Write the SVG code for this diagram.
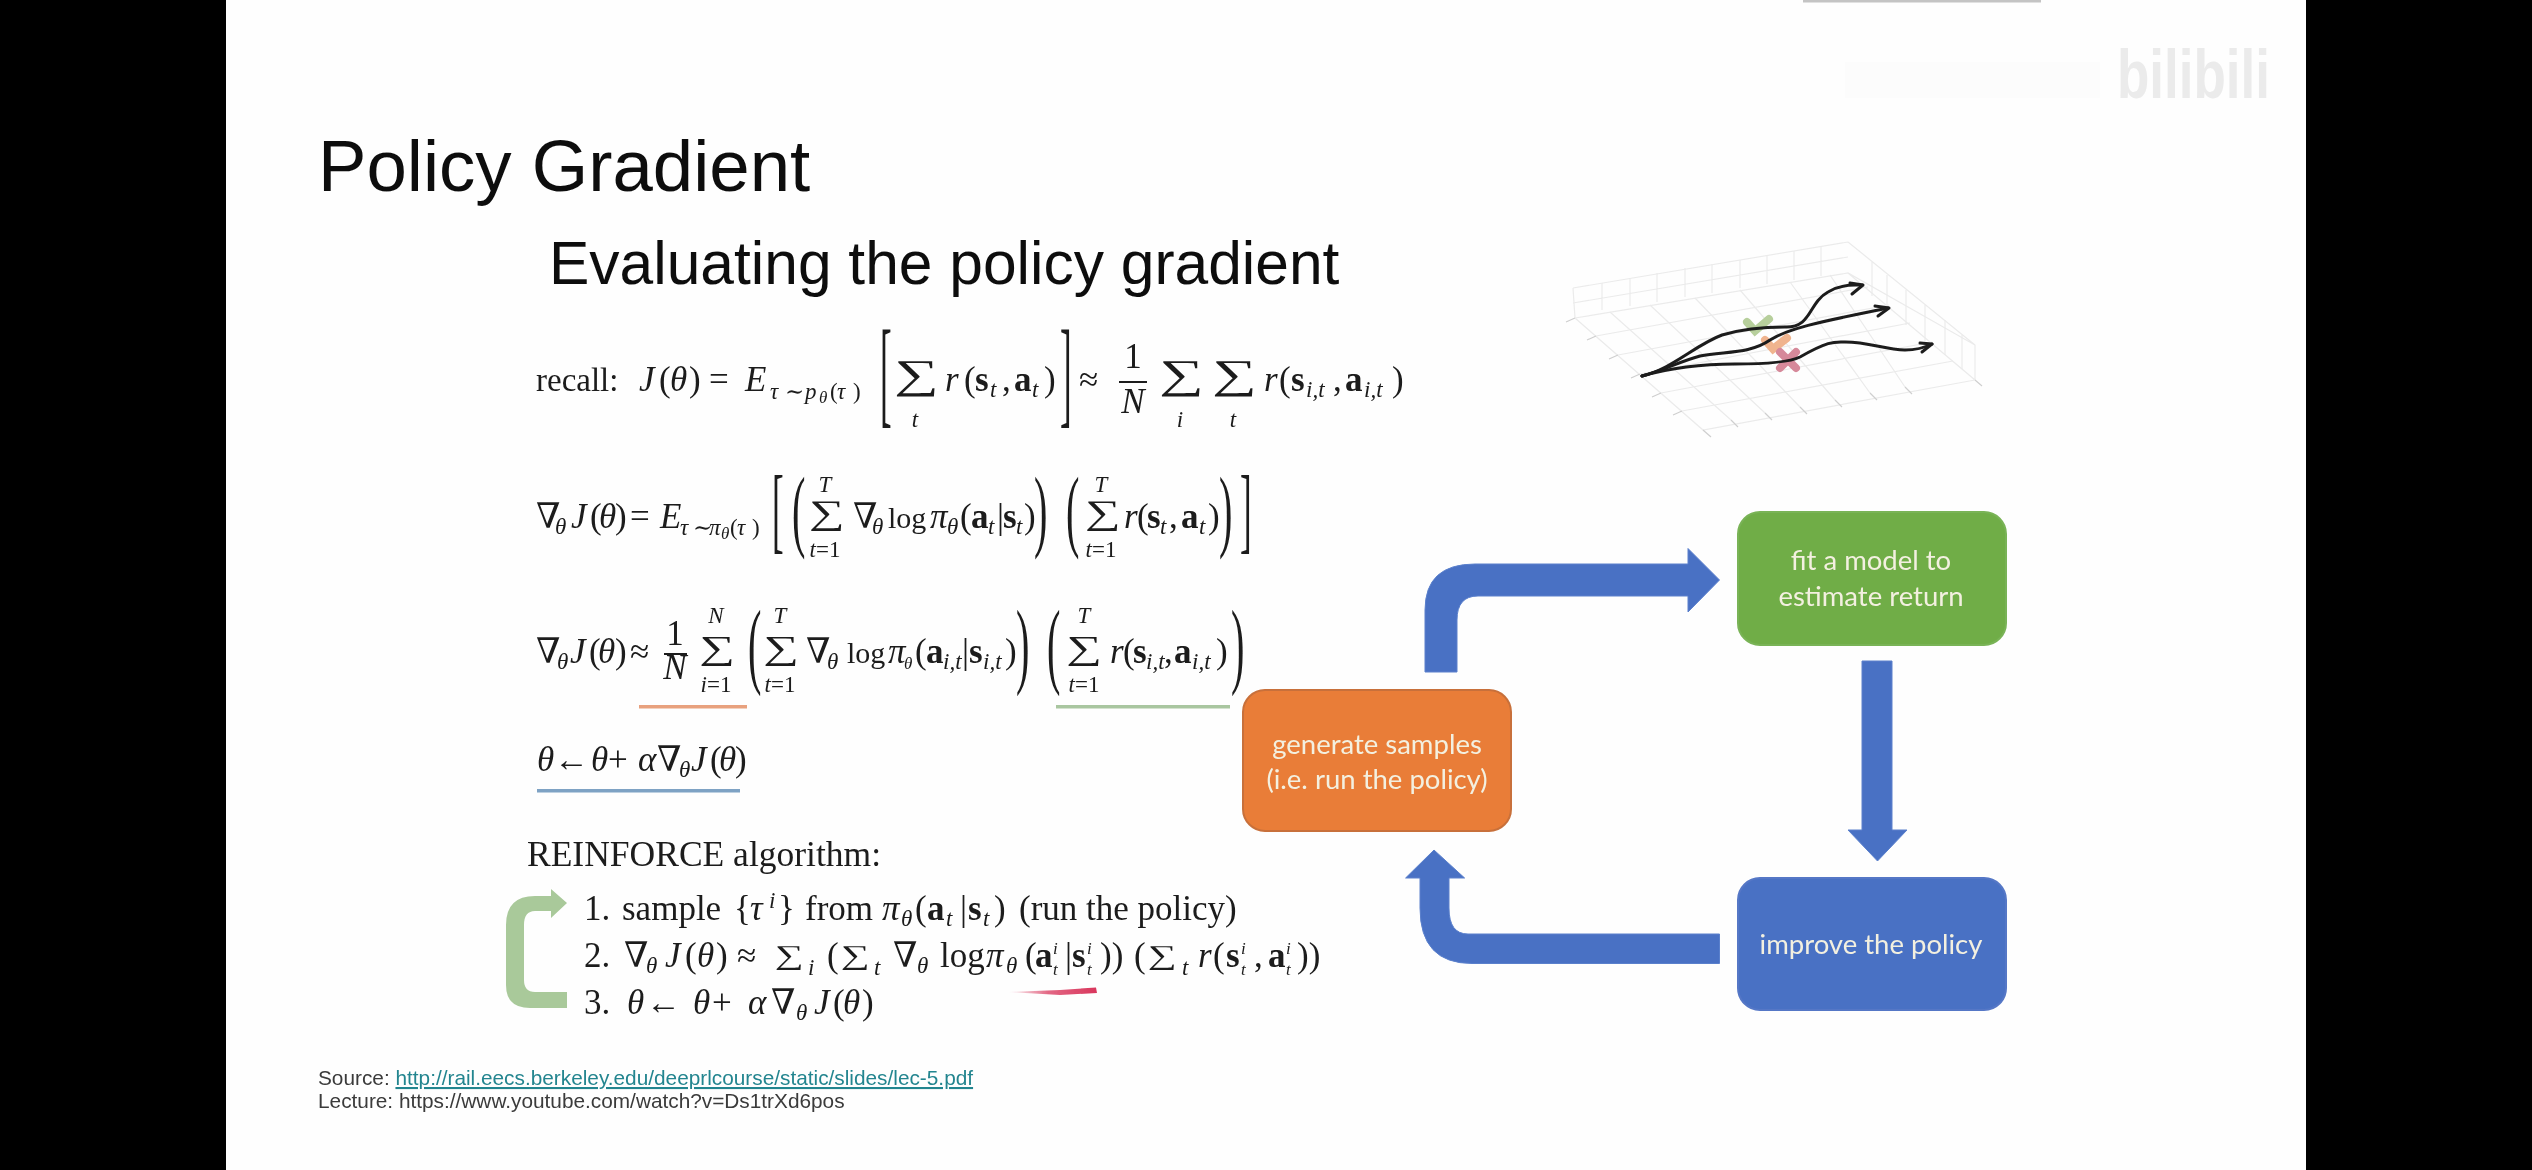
<svg xmlns="http://www.w3.org/2000/svg" width="2532" height="1170" viewBox="0 0 2532 1170">
<style>
.m{font-family:"Liberation Serif","DejaVu Serif",serif;font-size:35px;fill:#1a1a1a}
.i{font-style:italic}
.b{font-weight:bold}
.s{font-size:23px}
.ss{font-size:17px}
.lg{font-size:30px}
.sa{font-family:"Liberation Serif","DejaVu Serif",serif;font-size:40.5px;fill:#1a1a1a}
.sb{font-family:"Liberation Serif","DejaVu Serif",serif;font-size:34.5px;fill:#1a1a1a}
.sc{font-family:"Liberation Serif","DejaVu Serif",serif;font-size:27px;fill:#1a1a1a}
.a{font-family:"Liberation Sans",Arial,sans-serif;fill:#111}
.n{font-family:Lato,"Open Sans",sans-serif;font-size:27.5px;fill:#f3f0e0;text-anchor:middle}
.arr{fill:#4a71c4;stroke:#5a80cc;stroke-width:1}
.box{stroke-width:2}
.grid{stroke:#ebebeb;stroke-width:1.2;fill:none}
.tick{stroke:#cfcfcf;stroke-width:1.2;fill:none}
.tr{stroke:#1c1c1c;stroke-width:3;fill:none;stroke-linecap:round;stroke-linejoin:round}
.mid{text-anchor:middle}
</style>
<defs>
<filter id="soft" x="-2%" y="-2%" width="104%" height="104%"><feGaussianBlur stdDeviation="0.55"/></filter>
<linearGradient id="red" x1="0" x2="1" y1="0" y2="0"><stop offset="0" stop-color="#d9365c" stop-opacity="0"/><stop offset="0.45" stop-color="#d9365c" stop-opacity="0.75"/><stop offset="1" stop-color="#d9365c"/></linearGradient>
</defs>
<rect width="2532" height="1170" fill="#000"/>
<rect x="226" y="0" width="2080" height="1170" fill="#fefefe"/>
<rect x="1803" y="0" width="238" height="2.5" fill="#c4c4c4"/>
<rect x="1845" y="62" width="255" height="36" fill="#fcfcfc"/>
<text x="2117" y="98" font-family="'Liberation Sans',sans-serif" font-weight="bold" font-size="68" fill="#ebebeb" textLength="153" lengthAdjust="spacingAndGlyphs">bilibili</text>

<g filter="url(#soft)">
<text class="a" x="318" y="191" font-size="72.6">Policy Gradient</text>
<text class="a" x="549" y="284" font-size="60.5">Evaluating the policy gradient</text>

<g id="eq1">
<text class="m" y="388" transform="translate(0,3)"><tspan x="536" style="font-size:33px">recall:</tspan><tspan x="639" class="i">J</tspan><tspan x="659">(</tspan><tspan x="670" class="i">θ</tspan><tspan x="689">)</tspan><tspan x="709">=</tspan><tspan x="745" class="i">E</tspan><tspan x="770" y="396" class="s i">τ</tspan><tspan x="785" class="s">∼</tspan><tspan x="805" class="s i">p</tspan><tspan x="819" y="400" class="ss i">θ</tspan><tspan x="830" y="396" class="s">(</tspan><tspan x="837" class="s i">τ</tspan><tspan x="853" class="s">)</tspan><tspan x="945" y="388" class="i">r</tspan><tspan x="964">(</tspan><tspan x="975" class="b">s</tspan><tspan x="990" y="394" class="s i">t</tspan><tspan x="1002" y="388">,</tspan><tspan x="1014" class="b">a</tspan><tspan x="1032" y="394" class="s i">t</tspan><tspan x="1044" y="388">)</tspan><tspan x="1079">≈</tspan><tspan x="1264" class="i">r</tspan><tspan x="1279">(</tspan><tspan x="1291" class="b">s</tspan><tspan x="1306" y="394" class="s i">i,t</tspan><tspan x="1333" y="388">,</tspan><tspan x="1345" class="b">a</tspan><tspan x="1364" y="394" class="s i">i,t</tspan><tspan x="1392" y="388">)</tspan></text>
<text class="m" transform="translate(880,412) scale(1,3.4)">[</text>
<text class="m" transform="translate(1060,412) scale(1,3.4)">]</text>
<text class="sa" transform="translate(894,388) scale(1.55,1)">∑</text><text class="m s i mid" x="915" y="427">t</text>
<text class="m mid" x="1133" y="368">1</text><rect x="1119" y="381" width="28" height="2" fill="#1a1a1a"/><text class="m i mid" x="1133" y="413">N</text>
<text class="sa" transform="translate(1159,388) scale(1.55,1)">∑</text><text class="m s i mid" x="1180" y="427">i</text>
<text class="sa" transform="translate(1212,388) scale(1.55,1)">∑</text><text class="m s i mid" x="1233" y="427">t</text>
</g>

<g id="eq2">
<text class="m" y="525" transform="translate(0,3)"><tspan x="536">∇</tspan><tspan x="555" y="531" class="s i">θ</tspan><tspan x="571" y="525" class="i">J</tspan><tspan x="590">(</tspan><tspan x="599" class="i">θ</tspan><tspan x="615">)</tspan><tspan x="630">=</tspan><tspan x="660" class="i">E</tspan><tspan x="680" y="532" class="s i">τ</tspan><tspan x="693" class="s">∼</tspan><tspan x="709" class="s i">π</tspan><tspan x="721" y="536" class="ss i">θ</tspan><tspan x="730" y="532" class="s">(</tspan><tspan x="737" class="s i">τ</tspan><tspan x="752" class="s">)</tspan><tspan x="853" y="525">∇</tspan><tspan x="872" y="531" class="s i">θ</tspan><tspan x="888" y="525" class="lg">log</tspan><tspan x="930" class="i">π</tspan><tspan x="947" y="531" class="s i">θ</tspan><tspan x="960" y="525">(</tspan><tspan x="971" class="b">a</tspan><tspan x="988" y="531" class="s i">t</tspan><tspan x="997" y="525">|</tspan><tspan x="1003" class="b">s</tspan><tspan x="1016" y="531" class="s i">t</tspan><tspan x="1024" y="525">)</tspan><tspan x="1124" class="i">r</tspan><tspan x="1137">(</tspan><tspan x="1147" class="b">s</tspan><tspan x="1160" y="531" class="s i">t</tspan><tspan x="1169" y="525">,</tspan><tspan x="1181" class="b">a</tspan><tspan x="1199" y="531" class="s i">t</tspan><tspan x="1208" y="525">)</tspan></text>
<text class="m" transform="translate(772,541) scale(1,2.7)">[</text>
<text class="m" transform="translate(1240,541) scale(1,2.7)">]</text>
<text class="m" transform="translate(792,540) scale(1.15,2.6)">(</text>
<text class="m" transform="translate(1034,540) scale(1.15,2.6)">)</text>
<text class="m" transform="translate(1066,540) scale(1.15,2.6)">(</text>
<text class="m" transform="translate(1219,540) scale(1.15,2.6)">)</text>
<text class="sb" transform="translate(809,524) scale(1.45,1)">∑</text><text class="m s i mid" x="825" y="492">T</text><text class="m s mid" x="825" y="557"><tspan class="i">t</tspan>=1</text>
<text class="sb" transform="translate(1085,524) scale(1.45,1)">∑</text><text class="m s i mid" x="1101" y="492">T</text><text class="m s mid" x="1101" y="557"><tspan class="i">t</tspan>=1</text>
</g>

<g id="eq3">
<text class="m" y="660" transform="translate(0,3)"><tspan x="536">∇</tspan><tspan x="557" y="666" class="s i">θ</tspan><tspan x="570" y="660" class="i">J</tspan><tspan x="589">(</tspan><tspan x="598" class="i">θ</tspan><tspan x="615">)</tspan><tspan x="630">≈</tspan><tspan x="806">∇</tspan><tspan x="827" y="666" class="s i">θ</tspan><tspan x="847" y="660" class="lg">log</tspan><tspan x="888" class="i">π</tspan><tspan x="904" y="666" class="ss i">θ</tspan><tspan x="915" y="660">(</tspan><tspan x="926" class="b">a</tspan><tspan x="943" y="666" class="s i">i,t</tspan><tspan x="962" y="660">|</tspan><tspan x="969" class="b">s</tspan><tspan x="983" y="666" class="s i">i,t</tspan><tspan x="1005" y="660">)</tspan><tspan x="1110" class="i">r</tspan><tspan x="1123">(</tspan><tspan x="1133" class="b">s</tspan><tspan x="1146" y="666" class="s i">i,t</tspan><tspan x="1164" y="660">,</tspan><tspan x="1174" class="b">a</tspan><tspan x="1192" y="666" class="s i">i,t</tspan><tspan x="1216" y="660">)</tspan></text>
<text class="m mid" x="675" y="645">1</text><rect x="664" y="653" width="23" height="2" fill="#1a1a1a"/><text class="m i mid" x="675" y="679">N</text>
<text class="sc" transform="translate(699,658.5) scale(1.85,1.25)">∑</text><text class="m s i mid" x="716" y="623">N</text><text class="m s mid" x="716" y="692"><tspan class="i">i</tspan>=1</text>
<text class="sc" transform="translate(763,658.5) scale(1.85,1.25)">∑</text><text class="m s i mid" x="780" y="623">T</text><text class="m s mid" x="780" y="692"><tspan class="i">t</tspan>=1</text>
<text class="sc" transform="translate(1066,658.5) scale(1.85,1.25)">∑</text><text class="m s i mid" x="1084" y="623">T</text><text class="m s mid" x="1084" y="692"><tspan class="i">t</tspan>=1</text>
<text class="m" transform="translate(748,676) scale(1.15,2.75)">(</text>
<text class="m" transform="translate(1016,676) scale(1.15,2.75)">)</text>
<text class="m" transform="translate(1047,676) scale(1.15,2.75)">(</text>
<text class="m" transform="translate(1231,676) scale(1.15,2.75)">)</text>
<rect x="639" y="705" width="108" height="3.5" fill="#e8a17e"/>
<rect x="1056" y="705" width="174" height="3.5" fill="#a9c6a0"/>
</g>

<g id="eq4">
<text class="m" y="771"><tspan x="537" class="i">θ</tspan><tspan x="554">←</tspan><tspan x="591" class="i">θ</tspan><tspan x="608">+</tspan><tspan x="638" class="i">α</tspan><tspan x="657">∇</tspan><tspan x="679" y="777" class="s i">θ</tspan><tspan x="691" y="771" class="i">J</tspan><tspan x="710">(</tspan><tspan x="719" class="i">θ</tspan><tspan x="735">)</tspan></text>
<rect x="537" y="789" width="203" height="3.5" fill="#7ea2c4"/>
</g>

<g id="reinforce">
<text class="m" x="527" y="866" style="font-size:35.5px">REINFORCE algorithm:</text>
<g transform="translate(0,3)">
<text class="m" y="917"><tspan x="584">1.</tspan><tspan x="622">sample</tspan><tspan x="734">{</tspan><tspan x="750" class="i">τ</tspan><tspan x="769" y="905" class="s i">i</tspan><tspan x="778" y="917">}</tspan><tspan x="805">from</tspan><tspan x="882" class="i">π</tspan><tspan x="901" y="923" class="s i">θ</tspan><tspan x="915" y="917">(</tspan><tspan x="927" class="b">a</tspan><tspan x="946" y="923" class="s i">t</tspan><tspan x="960" y="917">|</tspan><tspan x="968" class="b">s</tspan><tspan x="983" y="923" class="s i">t</tspan><tspan x="994" y="917">)</tspan><tspan x="1019">(run the policy)</tspan></text>
<text class="m" y="964"><tspan x="584">2.</tspan><tspan x="624">∇</tspan><tspan x="646" y="970" class="s i">θ</tspan><tspan x="665" y="964" class="i">J</tspan><tspan x="685">(</tspan><tspan x="697" class="i">θ</tspan><tspan x="716">)</tspan><tspan x="737">≈</tspan><tspan x="808" y="972" class="s i">i</tspan><tspan x="827" y="964">(</tspan><tspan x="874" y="972" class="s i">t</tspan><tspan x="893" y="964">∇</tspan><tspan x="917" y="970" class="s i">θ</tspan><tspan x="940" y="964">log</tspan><tspan x="986" class="i">π</tspan><tspan x="1006" y="970" class="s i">θ</tspan><tspan x="1025" y="964">(</tspan><tspan x="1035" class="b">a</tspan><tspan x="1053" y="951" class="ss i">i</tspan><tspan x="1053" y="972" class="ss i">t</tspan><tspan x="1065" y="964">|</tspan><tspan x="1072" class="b">s</tspan><tspan x="1087" y="951" class="ss i">i</tspan><tspan x="1087" y="972" class="ss i">t</tspan><tspan x="1100" y="964">))</tspan><tspan x="1134">(</tspan><tspan x="1182" y="972" class="s i">t</tspan><tspan x="1198" y="964" class="i">r</tspan><tspan x="1213">(</tspan><tspan x="1226" class="b">s</tspan><tspan x="1241" y="951" class="ss i">i</tspan><tspan x="1241" y="972" class="ss i">t</tspan><tspan x="1254" y="964">,</tspan><tspan x="1268" class="b">a</tspan><tspan x="1286" y="951" class="ss i">i</tspan><tspan x="1286" y="972" class="ss i">t</tspan><tspan x="1297" y="964">))</tspan></text>
<text class="sc" transform="translate(775,961) scale(1.5,1)">∑</text>
<text class="sc" transform="translate(841,961) scale(1.5,1)">∑</text>
<text class="sc" transform="translate(1148,961) scale(1.5,1)">∑</text>
</g>
<text class="m" y="1014"><tspan x="584">3.</tspan><tspan x="627" class="i">θ</tspan><tspan x="646">←</tspan><tspan x="693" class="i">θ</tspan><tspan x="712">+</tspan><tspan x="748" class="i">α</tspan><tspan x="771">∇</tspan><tspan x="796" y="1020" class="s i">θ</tspan><tspan x="814" y="1014" class="i">J</tspan><tspan x="833">(</tspan><tspan x="843" class="i">θ</tspan><tspan x="862">)</tspan></text>
<path d="M1008,992 L1060,990 L1096,987.5 L1097,993 L1060,995 Z" fill="url(#red)"/>
</g>

<g id="source">
<text class="a" x="318" y="1085" font-size="20.8" style="fill:#3a3a3a">Source: <tspan style="fill:#24858f" text-decoration="underline">http://rail.eecs.berkeley.edu/deeprlcourse/static/slides/lec-5.pdf</tspan></text>
<text class="a" x="318" y="1108" font-size="20.8" style="fill:#3a3a3a">Lecture: https://www.youtube.com/watch?v=Ds1trXd6pos</text>
</g>

<g id="connectors">
<path class="arr" d="M1425,672 V610 Q1425,564 1475,564 H1688 V548.5 L1719.5,580 L1688,612 V596 H1478 Q1457,596 1457,620 V672 Z"/>
<path class="arr" d="M1862,661 H1892 V830 H1907 L1877.5,861 L1848,830 H1862 Z"/>
<path class="arr" d="M1719.5,934 H1468 Q1449,934 1449,908 V878 H1464.6 L1434,850 L1405.6,878 H1420 V908 Q1420,963.5 1472,963.5 H1719.5 Z"/>
<path fill="#a9c99a" d="M567,1008 H530 Q506,1008 506,985 V925 Q506,896 535,896 H551 V889 L567,903 L551,918 V911 H535 Q524,911 524,925 V980 Q524,992 535,992 H567 Z"/>
</g>

<g id="node-generate">
<rect class="box" x="1243" y="690" width="268" height="141" rx="22" fill="#e97d37" stroke="#c8703a"/>
<text class="n" x="1377" y="754">generate samples</text>
<text class="n" x="1377" y="789">(i.e. run the policy)</text>
</g>
<g id="node-fit">
<rect class="box" x="1738" y="512" width="268" height="133" rx="22" fill="#70ad47" stroke="#79b356"/>
<text class="n" x="1871" y="570">fit a model to</text>
<text class="n" x="1871" y="606">estimate return</text>
</g>
<g id="node-improve">
<rect class="box" x="1738" y="878" width="268" height="132" rx="22" fill="#4a71c4" stroke="#5577c6"/>
<text class="n" x="1871" y="954">improve the policy</text>
</g>

<g id="plot">
<path class="grid" d="M1573,288 L1848,242 M1575,318 L1848,273 L1975,345 L1975,380 M1848,242 L1975,345 M1848,273 L1975,380 L1703,430 L1575,318 M1573,288 L1575,318"/>
<path class="grid" d="M1602,283 V310 M1630,278 V306 M1657,273 V302 M1685,268 V297 M1712,264 V293 M1740,260 V288 M1767,256 V284 M1794,251 V280 M1821,246 V276 M1573,303 L1848,257"/>
<path class="grid" d="M1872,262 V296 M1887,275 V308 M1906,290 V325 M1925,305 V341 M1945,320 V355 M1962,335 V369"/>
<path class="grid" d="M1596,336 L1868,287 M1618,355 L1889,305 M1640,374 L1910,323 M1661,393 L1932,342 M1682,411 L1953,361 M1610,312 L1731,420 M1650,305 L1765,413 M1695,298 L1800,407 M1740,290 L1835,400 M1790,282 L1870,393 M1830,275 L1905,387"/>
<path class="tick" d="M1575,318 L1566,322 M1596,336 L1587,340 M1618,355 L1609,359 M1640,374 L1631,378 M1661,393 L1652,397 M1682,411 L1673,415 M1703,430 L1711,437 M1731,420 L1738,427 M1765,413 L1772,420 M1800,407 L1807,414 M1835,400 L1842,407 M1870,393 L1877,400 M1905,387 L1912,394 M1975,380 L1982,386"/>
<path d="M1747,322 L1755,331 L1769,319" fill="none" stroke="#b7cf9c" stroke-width="8" stroke-linecap="round"/>
<path d="M1765,340 L1773,349 L1787,338" fill="none" stroke="#f0b48e" stroke-width="8" stroke-linecap="round"/>
<path d="M1780,352 L1796,368 M1796,352 L1780,368" stroke="#d6899a" stroke-width="8" stroke-linecap="round"/>
<path class="tr" d="M1642,376 C1672,369 1695,345 1722,335 C1742,329 1765,327 1785,327 C1812,328 1808,303 1828,292 C1845,282 1860,286 1862,285"/>
<path class="tr" d="M1850,283 L1863,285 L1852,294"/>
<path class="tr" d="M1642,376 C1665,370 1678,362 1700,356 C1725,351 1750,354 1770,340 C1790,327 1830,320 1888,308"/>
<path class="tr" d="M1875,306 L1889,308 L1878,316"/>
<path class="tr" d="M1642,376 C1670,368 1700,364 1735,364 C1770,364 1790,362 1800,357 C1830,340 1835,342 1845,342 C1870,342 1885,350 1905,350 C1920,350 1928,346 1932,344"/>
<path class="tr" d="M1920,343 L1932,344 L1922,352"/>
</g>
</g>
</svg>
